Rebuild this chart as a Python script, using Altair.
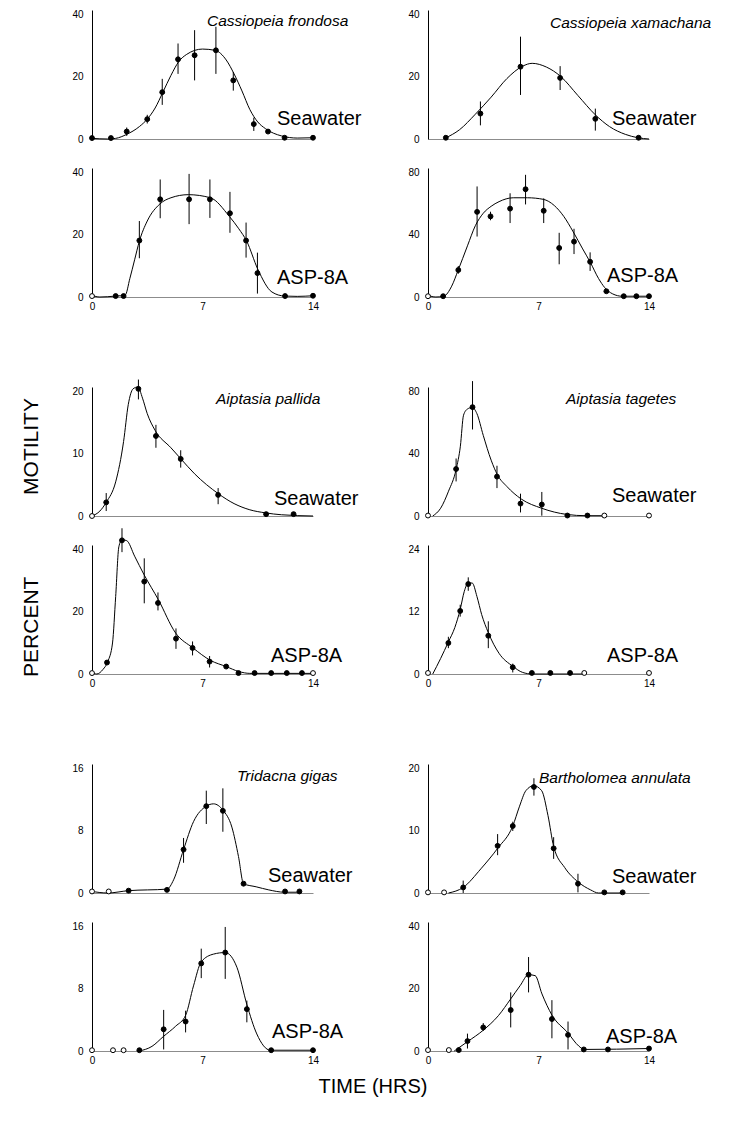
import altair as alt
import pandas as pd

FONT = "Liberation Sans"

# ---------------- data ----------------
# Panel A: Cassiopeia frondosa, Seawater
A_t = [0, 1.2, 2.2, 3.5, 4.45, 5.45, 6.5, 7.85, 8.95, 10.25, 11.15, 12.2, 14]
A_v = [0.3, 0.3, 2.4, 6.4, 15.1, 25.7, 27.0, 28.6, 18.9, 4.8, 2.4, 0.4, 0.4]
A_lo = [None, None, 1.0, 5.0, 11.0, 21.0, 18.9, 21.0, 15.6, 2.6, None, None, None]
A_hi = [None, None, 3.7, 7.8, 19.4, 30.8, 35.1, 36.2, 21.6, 6.9, None, None, None]
A_open = [False] * 13
A_ct = [0, 1, 1.5, 2.2, 3, 3.5, 4, 4.5, 5, 5.5, 6, 7, 7.8, 8.5, 9, 9.5, 10, 10.5, 11, 12, 13, 14]
A_cv = [0.2, 0, 0.2, 1.5, 4, 6.4, 10, 15.2, 20.5, 25, 27.3, 29, 28.6, 25.5, 21, 15.5, 9.5, 5.5, 3.3, 1, 0.3, 0.4]

# Panel B: Cassiopeia xamachana, Seawater
B_t = [1.13, 3.32, 5.86, 8.37, 10.6, 13.34]
B_v = [0.4, 8.2, 23.3, 19.7, 6.5, 0.4]
B_lo = [None, 4.4, 14.2, 15.8, 2.7, None]
B_hi = [None, 12.1, 33.0, 23.5, 9.8, None]
B_open = [False] * 6
B_ct = [1.1, 2, 3, 4, 5, 6, 6.6, 7.5, 8.4, 9.5, 10.6, 11.5, 12.5, 13.3, 14]
B_cv = [0.3, 3, 8, 13.5, 19.5, 23.5, 24.4, 23.2, 20.2, 14, 7.8, 4, 1.5, 0.4, 0]

# Panel C: Cassiopeia frondosa, ASP-8A
C_t = [0, 1.5, 2.0, 3.0, 4.32, 6.15, 7.47, 8.74, 9.76, 10.48, 12.23, 14]
C_v = [0.3, 0.3, 0.3, 18.2, 31.5, 31.5, 31.5, 27.0, 18.2, 7.7, 0.3, 0.4]
C_lo = [None, None, None, 12.5, 25.4, 23.5, 25.5, 20.7, 12.7, 1.1, None, None]
C_hi = [None, None, None, 24.5, 37.9, 39.7, 37.9, 33.9, 24.0, 14.3, None, None]
C_open = [True] + [False] * 11
C_ct = [0, 0.5, 1.5, 2.1, 2.4, 2.7, 3, 3.5, 4.3, 5, 6.1, 7.5, 8.7, 9.3, 9.8, 10.5, 11.4, 12.2, 13, 14]
C_cv = [0.5, 0, 0.3, 0.6, 6, 12, 18, 24.5, 30, 32, 33, 32, 26, 22, 18, 9, 1.6, 0.3, 0.2, 0.4]

# Panel D: Cassiopeia xamachana, ASP-8A
D_t = [0, 0.96, 1.92, 3.11, 3.96, 5.2, 6.18, 7.33, 8.31, 9.25, 10.27, 11.3, 12.4, 13.2, 14]
D_v = [0.5, 0.5, 17.4, 54.9, 52.0, 57.0, 69.5, 55.6, 31.6, 35.7, 22.7, 3.7, 0.5, 0.5, 0.5]
D_lo = [None, None, 15, 39, 49.5, 47.7, 59.7, 47.7, 21.1, 27.7, 16.8, None, None, None, None]
D_hi = [None, None, 20, 71.3, 55, 66.9, 78.8, 63.6, 41.4, 44, 28.8, None, None, None, None]
D_open = [True] + [False] * 14
D_ct = [0, 0.5, 1, 1.5, 1.9, 2.5, 3, 3.5, 4, 4.5, 5.4, 6.3, 7.3, 8, 8.6, 9.2, 9.8, 10.3, 10.8, 11.2, 11.7, 12.3, 14]
D_cv = [1, 0, 0.5, 7, 17, 33, 46, 54, 58.5, 61.5, 64, 64, 63, 59, 52, 42, 31, 22, 12, 6, 2, 0.5, 0.5]

# Panel E: Aiptasia pallida, Seawater
E_t = [0, 0.9, 2.94, 4.05, 5.62, 7.99, 11.03, 12.77]
E_v = [0, 2.2, 20.5, 12.9, 9.2, 3.4, 0.3, 0.3]
E_lo = [None, 0.8, 18.8, 11.0, 7.8, 1.9, None, None]
E_hi = [None, 3.7, 22.0, 14.7, 10.6, 4.5, None, None]
E_open = [True] + [False] * 7
E_ct = [0, 0.5, 0.9, 1.5, 2, 2.3, 2.6, 2.9, 3.2, 3.5, 4, 5, 5.6, 6.5, 8, 9, 10, 11, 12, 14]
E_cv = [0, 0.8, 2.2, 5.5, 12, 18, 20.5, 20.8, 19, 16.5, 13.8, 11, 9.3, 6.8, 3.6, 2, 1, 0.5, 0.2, 0]

# Panel F: Aiptasia tagetes, Seawater
F_t = [0, 1.78, 2.82, 4.37, 5.86, 7.21, 8.83, 10.1, 11.17, 14]
F_v = [0.3, 30.3, 70.2, 25.4, 8.0, 7.4, 0.3, 0.3, 0.3, 0.3]
F_lo = [None, 22.3, 55.8, 18.0, 2.3, 0.2, None, None, None, None]
F_hi = [None, 37.1, 87.0, 32.4, 14.4, 15.5, None, None, None, None]
F_open = [True, False, False, False, False, False, False, False, True, True]
F_ct = [0.3, 0.8, 1.3, 1.78, 2.05, 2.25, 2.5, 2.8, 3.1, 3.5, 4, 4.4, 5, 5.9, 7.2, 8.8, 10, 11.2]
F_cv = [0, 5, 16, 30, 45, 65, 69, 70, 66, 52, 36, 26.5, 19, 11, 5, 1, 0.2, 0.2]

# Panel G: Aiptasia pallida, ASP-8A
G_t = [0, 0.95, 1.9, 3.31, 4.18, 5.32, 6.37, 7.45, 8.5, 9.28, 10.3, 11.35, 12.34, 13.3, 14]
G_v = [0.3, 3.7, 43.1, 29.8, 22.9, 11.4, 8.4, 4.0, 2.4, 0.3, 0.3, 0.3, 0.3, 0.3, 0.3]
G_lo = [None, None, 39.3, 22.8, 20.5, 8.1, 6.0, 2.1, None, None, None, None, None, None, None]
G_hi = [None, None, 47.0, 37.3, 26.3, 14.7, 10.5, 5.8, None, None, None, None, None, None, None]
G_open = [True] + [False] * 13 + [True]
G_ct = [0, 0.3, 0.7, 1, 1.3, 1.5, 1.7, 1.9, 2.2, 2.7, 3.3, 4.2, 5.3, 6.4, 7.5, 8.5, 9.3, 10, 14]
G_cv = [0.5, 0, 1.5, 4, 10, 25, 41, 43.3, 43, 38, 32, 24, 13.2, 8.4, 4.4, 2.4, 0.8, 0.2, 0.2]

# Panel H: Aiptasia tagetes, ASP-8A
H_t = [0, 1.29, 2.04, 2.55, 3.82, 5.37, 6.58, 7.75, 9.0, 9.9, 14]
H_v = [0.2, 6.0, 12.2, 17.4, 7.4, 1.3, 0.2, 0.2, 0.2, 0.2, 0.2]
H_lo = [None, 5.0, 11.1, 16.1, 5.0, 0.3, None, None, None, None, None]
H_hi = [None, 7.2, 13.4, 18.7, 10.2, 2.0, None, None, None, None, None]
H_open = [True] + [False] * 8 + [True, True]
H_ct = [0.3, 0.8, 1.29, 1.7, 2.04, 2.3, 2.55, 2.8, 3.1, 3.4, 3.82, 4.5, 5.37, 6, 6.6, 9.9]
H_cv = [0, 3, 6.2, 9, 12.5, 16, 17.6, 17.6, 15, 11.5, 8, 4, 1.5, 0.3, 0, 0]

# Panel I: Tridacna gigas, Seawater
I_t = [0, 1.06, 2.32, 4.75, 5.8, 7.24, 8.29, 9.6, 12.23, 13.14]
I_v = [0.2, 0.2, 0.3, 0.4, 5.6, 11.2, 10.6, 1.2, 0.2, 0.2]
I_lo = [None, None, None, None, 3.9, 8.9, 7.9, None, None, None]
I_hi = [None, None, None, None, 7.1, 13.2, 13.5, None, None, None]
I_open = [True, True] + [False] * 8
I_ct = [0, 1, 2.3, 4.75, 5.17, 5.8, 6.43, 7.24, 7.7, 8.29, 8.86, 9.28, 9.6, 10.4, 11.2, 12.2, 13.1]
I_cv = [0.2, 0, 0.3, 0.5, 1.7, 5.6, 9.2, 11.2, 11.5, 10.7, 8.5, 4.7, 1.2, 0.8, 0.4, 0.1, 0.1]

# Panel J: Bartholomea annulata, Seawater
J_t = [0, 1.02, 2.23, 4.41, 5.37, 6.71, 7.96, 9.5, 11.17, 12.33]
J_v = [0.1, 0.1, 0.9, 7.6, 10.8, 17.1, 7.2, 1.5, 0.1, 0.1]
J_lo = [None, None, 0, 6.1, 10, 15.7, 5.5, 0.1, None, None]
J_hi = [None, None, 2, 9.5, 11.5, 18.5, 9, 3.1, None, None]
J_open = [True, True] + [False] * 8
J_ct = [1.3, 2.23, 3.35, 4.41, 5.37, 5.8, 6.2, 6.7, 7.2, 7.6, 7.96, 8.66, 9.5, 10.3, 10.8, 12.3]
J_cv = [0, 0.9, 3.9, 7.2, 10.8, 14, 16.5, 17.3, 16.5, 12.5, 7.5, 4.1, 1.8, 0.5, 0, 0]

# Panel K: Tridacna gigas, ASP-8A
K_t = [0, 1.33, 2.0, 3.0, 4.54, 5.93, 6.92, 8.44, 9.81, 11.35, 14]
K_v = [0.1, 0.1, 0.1, 0.1, 2.8, 3.8, 11.3, 12.7, 5.4, 0.1, 0.1]
K_lo = [None, None, None, None, 0.2, 2.4, 9.4, 9.3, 3.7, None, None]
K_hi = [None, None, None, None, 5.3, 5.2, 13.2, 16, 6.5, None, None]
K_open = [True, True, True] + [False] * 8
K_ct = [3, 3.8, 4.54, 5.3, 5.93, 6.43, 6.92, 7.7, 8.44, 9.18, 9.81, 10.44, 11.3, 14]
K_cv = [0, 0.6, 1.9, 3.2, 4.6, 8.4, 11.5, 12.5, 12.7, 10.8, 6, 2.2, 0.1, 0.1]

# Panel L: Bartholomea annulata, ASP-8A
L_t = [0, 1.32, 1.95, 2.5, 3.5, 5.24, 6.37, 7.85, 8.87, 9.87, 11.4, 14]
L_v = [0.3, 0.3, 0.3, 3.2, 7.6, 13.2, 24.6, 10.3, 5.2, 0.5, 0.5, 0.8]
L_lo = [None, None, None, 0.8, 6.5, 7.6, 18.9, 4.1, 0.5, None, None, None]
L_hi = [None, None, None, 5.6, 9.0, 18.9, 30.3, 16.4, 9.5, None, None, None]
L_open = [True, True] + [False] * 10
L_ct = [1.66, 2.5, 3.5, 4.46, 5.24, 5.84, 6.37, 6.79, 7.22, 7.85, 8.87, 9.55, 9.9, 14]
L_cv = [0, 3, 6.7, 11.4, 16.8, 21.1, 24.6, 24.3, 18.4, 11.6, 5.8, 1.6, 0.5, 0.8]

SPECIES = ["Cassiopeia frondosa", "Cassiopeia xamachana", "Aiptasia pallida",
           "Aiptasia tagetes", "Tridacna gigas", "Bartholomea annulata"]
CONDITIONS = ["Seawater", "ASP-8A"]
X_TICKS = [0, 7, 14]
Y_TICKS = {
    "A": [0, 20, 40], "B": [0, 20, 40], "C": [0, 20, 40], "D": [0, 40, 80],
    "E": [0, 10, 20], "F": [0, 40, 80], "G": [0, 20, 40], "H": [0, 12, 24],
    "I": [0, 8, 16], "J": [0, 10, 20], "K": [0, 8, 16], "L": [0, 20, 40],
}
Y_LABEL = "PERCENT MOTILITY"
X_LABEL = "TIME (HRS)"

# ---------------- layout (pixel placement of panel annotations) ----------------
W, H = 221, 129
GAP_H = 32
NAME_POS = {"A": (115, 16), "B": (122, 18), "E": (124, 17), "F": (138, 17),
            "I": (145, 17), "J": (111, 19)}
COND_POS = {"A": (185, 115), "B": (184, 115), "C": (185, 116), "D": (179, 114),
            "E": (182, 118), "F": (184, 115), "G": (179, 117), "H": (179, 117),
            "I": (176, 118), "J": (184, 119), "K": (180, 116), "L": (178, 121)}

DATA = {
    "A": (A_t, A_v, A_lo, A_hi, A_open, A_ct, A_cv),
    "B": (B_t, B_v, B_lo, B_hi, B_open, B_ct, B_cv),
    "C": (C_t, C_v, C_lo, C_hi, C_open, C_ct, C_cv),
    "D": (D_t, D_v, D_lo, D_hi, D_open, D_ct, D_cv),
    "E": (E_t, E_v, E_lo, E_hi, E_open, E_ct, E_cv),
    "F": (F_t, F_v, F_lo, F_hi, F_open, F_ct, F_cv),
    "G": (G_t, G_v, G_lo, G_hi, G_open, G_ct, G_cv),
    "H": (H_t, H_v, H_lo, H_hi, H_open, H_ct, H_cv),
    "I": (I_t, I_v, I_lo, I_hi, I_open, I_ct, I_cv),
    "J": (J_t, J_v, J_lo, J_hi, J_open, J_ct, J_cv),
    "K": (K_t, K_v, K_lo, K_hi, K_open, K_ct, K_cv),
    "L": (L_t, L_v, L_lo, L_hi, L_open, L_ct, L_cv),
}


def panel(key, species, condition, bottom):
    t, v, lo, hi, op, ct, cv = DATA[key]
    ticks = Y_TICKS[key]
    ymax = ticks[-1] * 1.04
    xs = alt.Scale(domain=[0, 14], nice=False, zero=False)
    ys = alt.Scale(domain=[0, ymax], nice=False)
    xaxis = alt.Axis(values=X_TICKS, labels=bottom, ticks=False, grid=False,
                     domainColor="#8c8c8c", domainWidth=1, labelFontSize=10,
                     labelFont=FONT, labelColor="black", labelPadding=4,
                     labelFlush=False, title=None)
    yaxis = alt.Axis(values=ticks, ticks=False, grid=False, domainColor="black",
                     domainWidth=1, labelFontSize=10, labelFont=FONT,
                     labelColor="black", labelPadding=9, labelFlush=False,
                     title=None)

    curve_df = pd.DataFrame({"t": ct, "v": cv})
    err_df = pd.DataFrame([{"t": a, "lo": l, "hi": h}
                           for a, l, h in zip(t, lo, hi) if l is not None])
    pts_df = pd.DataFrame({"t": t, "v": v,
                           "fill": ["white" if o else "black" for o in op]})

    curve = alt.Chart(curve_df).mark_line(
        color="black", strokeWidth=1, interpolate="monotone"
    ).encode(x=alt.X("t:Q", scale=xs, axis=xaxis),
             y=alt.Y("v:Q", scale=ys, axis=yaxis))
    err = alt.Chart(err_df).mark_rule(color="black", strokeWidth=1).encode(
        x=alt.X("t:Q", scale=xs, axis=xaxis),
        y=alt.Y("lo:Q", scale=ys, axis=yaxis), y2="hi:Q")
    pts = alt.Chart(pts_df).mark_circle(
        size=24, stroke="black", strokeWidth=1, opacity=1
    ).encode(x=alt.X("t:Q", scale=xs, axis=xaxis),
             y=alt.Y("v:Q", scale=ys, axis=yaxis),
             fill=alt.Fill("fill:N", scale=None))

    layers = [curve, err, pts]
    cx, cy = COND_POS[key]
    layers.append(
        alt.Chart(pd.DataFrame({"s": [condition]})).mark_text(
            font=FONT, fontSize=20, align="left", baseline="alphabetic",
            color="black"
        ).encode(x=alt.value(cx), y=alt.value(cy), text="s:N"))
    if species is not None:
        nx, ny = NAME_POS[key]
        layers.append(
            alt.Chart(pd.DataFrame({"s": [species]})).mark_text(
                font=FONT, fontSize=15.5, fontStyle="italic", align="left",
                baseline="alphabetic", color="black"
            ).encode(x=alt.value(nx), y=alt.value(ny), text="s:N"))
    return alt.layer(*layers).properties(width=W, height=H)


def spacer():
    return alt.Chart(pd.DataFrame({"s": [""]})).mark_text().encode(
        text="s:N"
    ).properties(width=W, height=GAP_H)


cells = []
keys = [("A", "B", "C", "D"), ("E", "F", "G", "H"), ("I", "J", "K", "L")]
for gi, (a, b, c, d) in enumerate(keys):
    if gi > 0:
        cells += [spacer(), spacer()]
    cells.append(panel(a, SPECIES[2 * gi], CONDITIONS[0], False))
    cells.append(panel(b, SPECIES[2 * gi + 1], CONDITIONS[0], False))
    cells.append(panel(c, None, CONDITIONS[1], True))
    cells.append(panel(d, None, CONDITIONS[1], True))

ylab = Y_LABEL.replace(" ", "\u00a0" * 14)
body = alt.concat(
    *cells, columns=2, spacing={"row": 29, "column": 115}, bounds="flush",
    title=alt.TitleParams(ylab, orient="left", anchor="middle", fontSize=21,
                          font=FONT, fontWeight="normal", color="black",
                          offset=30)
)

chart = alt.vconcat(
    body,
    title=alt.TitleParams(X_LABEL, orient="bottom", anchor="middle", fontSize=20,
                          font=FONT, fontWeight="normal", color="black",
                          offset=12, dx=7)
).properties(
    padding={"left": 12, "top": 1, "right": 5, "bottom": 5}
).configure_view(stroke=None)

chart.save("out.html", embed_options={"renderer": "svg", "actions": False})
